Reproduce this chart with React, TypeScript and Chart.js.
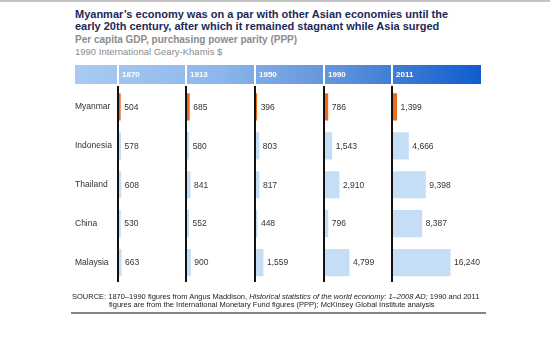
import React, { useEffect, useRef } from "react";
import { Chart, registerables } from "chart.js";

Chart.register(...registerables);

const countries = ["Myanmar", "Indonesia", "Thailand", "China", "Malaysia"];
const years = ["1870", "1913", "1950", "1990", "2011"];
const gdp1870 = [504, 578, 608, 530, 663];
const gdp1913 = [685, 580, 841, 552, 900];
const gdp1950 = [396, 803, 817, 448, 1559];
const gdp1990 = [786, 1543, 2910, 796, 4799];
const gdp2011 = [1399, 4666, 9398, 8387, 16240];
const seriesByYear = [gdp1870, gdp1913, gdp1950, gdp1990, gdp2011];
const columnMax = [12800, 12800, 12800, 12800, 24700];

const FONT = "'Liberation Sans', Arial, Helvetica, sans-serif";
const BLUE = "#c6ddf6";
const ORANGE = "#ec6a1c";
const axisIds = ["x0", "x1", "x2", "x3", "x4"];
const weights = [68, 69, 69, 68, 89];

const headerPlugin = {
  id: "headerBand",
  beforeDraw(chart: any) {
    const ctx = chart.ctx;
    const area = chart.chartArea;
    const top = area.top - 22.5;
    const h = 19;
    const left = chart.scales.y.left;
    const right = area.right;
    const grad = ctx.createLinearGradient(left, 0, right, 0);
    grad.addColorStop(0, "#a9cbf2");
    grad.addColorStop(0.35, "#8db7eb");
    grad.addColorStop(0.65, "#5f92db");
    grad.addColorStop(1, "#0f5dcd");
    ctx.save();
    ctx.fillStyle = grad;
    const scales = axisIds.map((id) => chart.scales[id]);
    ctx.fillRect(left, top, scales[0].left - 1 - left, h);
    scales.forEach((s: any, i: number) => {
      const l = s.left + 1;
      const r = i === scales.length - 1 ? s.right : s.right - 1;
      ctx.fillStyle = grad;
      ctx.fillRect(l, top, r - l, h);
      ctx.fillStyle = "#ffffff";
      ctx.font = `bold 8px ${FONT}`;
      ctx.textBaseline = "middle";
      ctx.textAlign = "left";
      ctx.fillText(years[i], l + 3, top + h / 2 + 0.5);
    });
    ctx.restore();
  },
  afterDatasetsDraw(chart: any) {
    const ctx = chart.ctx;
    const area = chart.chartArea;
    ctx.save();
    axisIds.forEach((id) => {
      const s = chart.scales[id];
      const px = s.getPixelForValue(0);
      ctx.strokeStyle = "#111111";
      ctx.lineWidth = 2;
      ctx.beginPath();
      ctx.moveTo(px, area.top - 1.5);
      ctx.lineTo(px, area.bottom);
      ctx.stroke();
    });
    ctx.fillStyle = "#333333";
    ctx.font = `8.5px ${FONT}`;
    ctx.textBaseline = "middle";
    ctx.textAlign = "left";
    chart.data.datasets.forEach((ds: any, di: number) => {
      const meta = chart.getDatasetMeta(di);
      meta.data.forEach((bar: any, i: number) => {
        const v = ds.data[i];
        ctx.fillText(Number(v).toLocaleString("en-US"), bar.x + 3.5, bar.y + 0.5);
      });
    });
    ctx.restore();
  },
};

function ChartCanvas() {
  const ref = useRef<HTMLCanvasElement | null>(null);
  useEffect(() => {
    if (!ref.current) return;
    const scales: any = {
      y: {
        type: "category",
        position: "left",
        grid: { display: false, drawTicks: false },
        border: { display: false },
        ticks: {
          crossAlign: "far",
          color: "#333333",
          font: { size: 8.5, family: FONT },
          padding: 0,
        },
        afterFit: (scale: any) => {
          scale.width = 43;
        },
      },
    };
    axisIds.forEach((id, i) => {
      scales[id] = {
        type: "linear",
        position: "bottom",
        stack: "columns",
        stackWeight: weights[i],
        min: 0,
        max: columnMax[i],
        grid: { display: false, drawTicks: false },
        border: { display: false },
        ticks: { display: false },
      };
    });
    const chart = new Chart(ref.current, {
      type: "bar",
      data: {
        labels: countries,
        datasets: seriesByYear.map((vals, i) => ({
          label: years[i],
          data: vals,
          xAxisID: axisIds[i],
          yAxisID: "y",
          grouped: false,
          barPercentage: 0.7,
          categoryPercentage: 1,
          borderWidth: 0,
          backgroundColor: countries.map((c) => (c === "Myanmar" ? ORANGE : BLUE)),
        })),
      } as any,
      options: {
        indexAxis: "y",
        animation: false,
        responsive: false,
        devicePixelRatio: 1,
        layout: { padding: { left: 75, right: 69, top: 87.5, bottom: 75 } },
        plugins: {
          legend: { display: false },
          tooltip: { enabled: false },
        },
        font: { family: FONT },
        scales,
      } as any,
      plugins: [headerPlugin],
    });
    return () => chart.destroy();
  }, []);
  return (
    <canvas
      ref={ref}
      width={550}
      height={357}
      style={{ position: "absolute", left: 0, top: 0, width: 550, height: 357 }}
    />
  );
}

export default function App() {
  return (
    <div
      style={{
        position: "fixed",
        left: 0,
        top: 0,
        width: 550,
        height: 357,
        background: "#ffffff",
        overflow: "hidden",
        fontFamily: FONT,
      }}
    >
      <div style={{ position: "absolute", left: 0, top: 0, width: 550, height: 2, background: "#c4c4c4" }} />
      <div
        style={{
          position: "absolute",
          left: 75,
          top: 7.5,
          fontWeight: "bold",
          fontSize: 11,
          lineHeight: "12.5px",
          color: "#1b2a57",
          whiteSpace: "nowrap",
        }}
      >
        Myanmar’s economy was on a par with other Asian economies until the
        <br />
        early 20th century, after which it remained stagnant while Asia surged
      </div>
      <div
        style={{
          position: "absolute",
          left: 75,
          top: 33.5,
          fontWeight: "bold",
          fontSize: 10,
          lineHeight: "12px",
          color: "#8c8c8c",
          whiteSpace: "nowrap",
        }}
      >
        Per capita GDP, purchasing power parity (PPP)
      </div>
      <div
        style={{
          position: "absolute",
          left: 75,
          top: 45.5,
          fontSize: 9.5,
          lineHeight: "12px",
          color: "#8c8c8c",
          whiteSpace: "nowrap",
        }}
      >
        1990 International Geary-Khamis $
      </div>
      <ChartCanvas />
      <div
        style={{
          position: "absolute",
          left: 72,
          top: 292.5,
          fontSize: 7.5,
          lineHeight: "8px",
          color: "#222222",
          whiteSpace: "nowrap",
          paddingLeft: 37,
          textIndent: -37,
        }}
      >
        SOURCE: 1870–1990 figures from Angus Maddison, <i>Historical statistics of the world economy: 1–2008 AD</i>; 1990 and 2011
        <br />
        figures are from the International Monetary Fund figures (PPP); McKinsey Global Institute analysis
      </div>
      <div style={{ position: "absolute", left: 71, top: 311.5, width: 415, height: 2, background: "#858585" }} />
    </div>
  );
}
